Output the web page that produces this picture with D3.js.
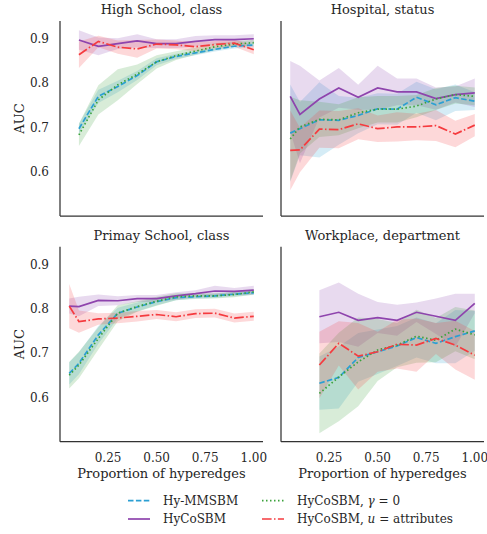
<!DOCTYPE html>
<html>
<head>
<meta charset="utf-8">
<script src="https://cdn.jsdelivr.net/npm/d3@7"></script>
<style>
  body { margin: 0; background: #fff; }
  text { font-family: "DejaVu Serif", serif; fill: #262626; }
</style>
</head>
<body>
<script>
// x positions (proportion of hyperedges)
let hsX = [0.1, 0.2, 0.3, 0.4, 0.5, 0.6, 0.7, 0.8, 0.9, 1.0];
let hoX = [0.05, 0.1, 0.2, 0.3, 0.4, 0.5, 0.6, 0.7, 0.8, 0.9, 1.0];
let psX = [0.05, 0.1, 0.2, 0.3, 0.4, 0.5, 0.6, 0.7, 0.8, 0.9, 1.0];
let wpX = [0.2, 0.3, 0.4, 0.5, 0.6, 0.7, 0.8, 0.9, 1.0];

// High School, class
let hsMmsbm = [0.697, 0.770, 0.792, 0.817, 0.848, 0.860, 0.868, 0.876, 0.883, 0.886];
let hsMmsbmCi = [0.012, 0.015, 0.013, 0.010, 0.008, 0.006, 0.005, 0.005, 0.005, 0.005];
let hsHyco = [0.897, 0.883, 0.889, 0.895, 0.889, 0.889, 0.894, 0.898, 0.898, 0.900];
let hsHycoCi = [0.022, 0.020, 0.012, 0.015, 0.010, 0.010, 0.012, 0.010, 0.010, 0.010];
let hsGamma = [0.683, 0.762, 0.796, 0.820, 0.848, 0.862, 0.872, 0.882, 0.888, 0.891];
let hsGammaCi = [0.025, 0.033, 0.035, 0.022, 0.015, 0.010, 0.008, 0.008, 0.006, 0.006];
let hsAttr = [0.864, 0.894, 0.881, 0.877, 0.888, 0.886, 0.882, 0.887, 0.890, 0.875];
let hsAttrCi = [0.030, 0.013, 0.015, 0.020, 0.010, 0.010, 0.010, 0.008, 0.008, 0.010];

// Hospital, status
let hoMmsbm = [0.687, 0.697, 0.717, 0.716, 0.727, 0.742, 0.741, 0.768, 0.751, 0.767, 0.759];
let hoMmsbmCi = [0.110, 0.060, 0.085, 0.055, 0.040, 0.035, 0.035, 0.035, 0.035, 0.030, 0.020];
let hoHyco = [0.770, 0.729, 0.764, 0.789, 0.768, 0.789, 0.780, 0.780, 0.765, 0.774, 0.778];
let hoHycoCi = [0.080, 0.110, 0.042, 0.045, 0.028, 0.050, 0.030, 0.030, 0.025, 0.018, 0.032];
let hoGamma = [0.674, 0.701, 0.718, 0.717, 0.733, 0.741, 0.741, 0.748, 0.764, 0.774, 0.770];
let hoGammaCi = [0.095, 0.060, 0.040, 0.035, 0.035, 0.030, 0.030, 0.025, 0.025, 0.020, 0.020];
let hoAttr = [0.648, 0.649, 0.696, 0.695, 0.708, 0.697, 0.701, 0.701, 0.704, 0.685, 0.705];
let hoAttrCi = [0.090, 0.050, 0.042, 0.042, 0.035, 0.030, 0.033, 0.030, 0.035, 0.030, 0.025];

// Primay School, class
let psMmsbm = [0.654, 0.677, 0.741, 0.790, 0.804, 0.816, 0.825, 0.827, 0.829, 0.833, 0.836];
let psMmsbmCi = [0.025, 0.025, 0.020, 0.012, 0.010, 0.008, 0.006, 0.005, 0.005, 0.005, 0.005];
let psHyco = [0.806, 0.805, 0.819, 0.818, 0.823, 0.823, 0.829, 0.834, 0.840, 0.839, 0.842];
let psHycoCi = [0.017, 0.022, 0.013, 0.010, 0.008, 0.008, 0.008, 0.008, 0.012, 0.008, 0.010];
let psGamma = [0.650, 0.673, 0.733, 0.790, 0.805, 0.817, 0.827, 0.829, 0.829, 0.832, 0.838];
let psGammaCi = [0.030, 0.030, 0.025, 0.018, 0.012, 0.010, 0.008, 0.006, 0.006, 0.006, 0.006];
let psAttr = [0.806, 0.771, 0.777, 0.779, 0.783, 0.787, 0.782, 0.789, 0.790, 0.779, 0.783];
let psAttrCi = [0.050, 0.025, 0.013, 0.012, 0.012, 0.010, 0.010, 0.010, 0.010, 0.010, 0.010];

// Workplace, department
let wpMmsbm = [0.632, 0.645, 0.690, 0.703, 0.716, 0.735, 0.722, 0.737, 0.750];
let wpMmsbmCi = [0.060, 0.070, 0.055, 0.050, 0.045, 0.045, 0.045, 0.060, 0.045];
let wpHyco = [0.782, 0.792, 0.774, 0.780, 0.774, 0.792, 0.783, 0.774, 0.812];
let wpHycoCi = [0.060, 0.067, 0.060, 0.035, 0.035, 0.022, 0.040, 0.060, 0.022];
let wpGamma = [0.609, 0.646, 0.680, 0.707, 0.718, 0.738, 0.729, 0.754, 0.741];
let wpGammaCi = [0.090, 0.100, 0.100, 0.070, 0.050, 0.060, 0.050, 0.050, 0.055];
let wpAttr = [0.673, 0.722, 0.693, 0.703, 0.720, 0.718, 0.733, 0.718, 0.695];
let wpAttrCi = [0.075, 0.050, 0.075, 0.045, 0.055, 0.060, 0.035, 0.055, 0.055];

let titles = ["High School, class", "Hospital, status", "Primay School, class", "Workplace, department"];
let seriesNames = ["Hy-MMSBM", "HyCoSBM", "HyCoSBM, γ = 0", "HyCoSBM, u = attributes"];
let colors = ["#2b9fd3", "#8e44ad", "#3aa23a", "#f53b3f"];
let dashes = ["5.5,2.4", null, "1.5,2.5", "9.6,2.4,1.5,2.4"];
let xTicks = [0.25, 0.50, 0.75, 1.00];
let yTicks = [0.6, 0.7, 0.8, 0.9];

let panels = [
  { x: hsX, s: [[hsMmsbm, hsMmsbmCi], [hsHyco, hsHycoCi], [hsGamma, hsGammaCi], [hsAttr, hsAttrCi]] },
  { x: hoX, s: [[hoMmsbm, hoMmsbmCi], [hoHyco, hoHycoCi], [hoGamma, hoGammaCi], [hoAttr, hoAttrCi]] },
  { x: psX, s: [[psMmsbm, psMmsbmCi], [psHyco, psHycoCi], [psGamma, psGammaCi], [psAttr, psAttrCi]] },
  { x: wpX, s: [[wpMmsbm, wpMmsbmCi], [wpHyco, wpHycoCi], [wpGamma, wpGammaCi], [wpAttr, wpAttrCi]] }
];

let width = 487,
    height = 534;

let pw = 203, ph = 195;
let lefts = [60, 281], tops = [21, 246.7];

let svg = d3.select("body")
    .append("svg")
    .attr("width", width)
    .attr("height", height);

let x = d3.scaleLinear().domain([0.0025, 1.0475]).range([0, pw]);
let y = d3.scaleLinear().domain([0.5, 0.94]).range([ph, 0]);

panels.forEach((p, i) => {
  let col = i % 2, row = Math.floor(i / 2);
  let g = svg.append("g")
      .attr("transform", "translate(" + lefts[col] + "," + tops[row] + ")");

  // confidence bands
  p.s.forEach((s, k) => {
    let pts = p.x.map((xv, j) => ({ x: xv, m: s[0][j], c: s[1][j] }));
    g.append("path")
        .datum(pts)
        .attr("fill", colors[k])
        .attr("fill-opacity", 0.2)
        .attr("d", d3.area()
            .x(d => x(d.x))
            .y0(d => y(d.m - d.c))
            .y1(d => y(d.m + d.c)));
  });

  // mean lines
  p.s.forEach((s, k) => {
    let pts = p.x.map((xv, j) => ({ x: xv, m: s[0][j] }));
    g.append("path")
        .datum(pts)
        .attr("fill", "none")
        .attr("stroke", colors[k])
        .attr("stroke-width", 1.7)
        .attr("stroke-dasharray", dashes[k])
        .attr("d", d3.line().x(d => x(d.x)).y(d => y(d.m)));
  });

  // spines
  g.append("line").attr("x1", 0).attr("x2", 0).attr("y1", 0).attr("y2", ph)
      .attr("stroke", "#333").attr("stroke-width", 1.25);
  g.append("line").attr("x1", 0).attr("x2", pw).attr("y1", ph).attr("y2", ph)
      .attr("stroke", "#333").attr("stroke-width", 1.25);

  g.append("text")
      .attr("x", pw / 2)
      .attr("y", -7)
      .style("text-anchor", "middle")
      .style("font-size", "13px")
      .text(titles[i]);

  if (col === 0) {
    g.selectAll(".yt").data(yTicks).enter().append("text")
        .attr("x", -11)
        .attr("y", d => y(d))
        .attr("dy", "0.35em")
        .style("text-anchor", "end")
        .style("font-size", "12px")
        .text(d => d.toFixed(1));
    g.append("text")
        .attr("transform", "translate(-41," + (ph / 2) + ") rotate(-90)")
        .attr("dy", "0.35em")
        .style("text-anchor", "middle")
        .style("font-size", "13px")
        .text("AUC");
  }

  if (row === 1) {
    g.selectAll(".xt").data(xTicks).enter().append("text")
        .attr("x", d => x(d))
        .attr("y", ph + 20)
        .style("text-anchor", "middle")
        .style("font-size", "12px")
        .text(d => d.toFixed(2));
    g.append("text")
        .attr("x", pw / 2)
        .attr("y", ph + 36.5)
        .style("text-anchor", "middle")
        .style("font-size", "13px")
        .text("Proportion of hyperedges");
  }
});

// legend
let legPos = [[128, 500.7], [128, 519], [262, 500.7], [262, 519]];
seriesNames.forEach((name, k) => {
  let lg = svg.append("g").attr("transform", "translate(" + legPos[k][0] + "," + legPos[k][1] + ")");
  lg.append("line")
      .attr("x1", 0).attr("x2", 22).attr("y1", 0).attr("y2", 0)
      .attr("stroke", colors[k])
      .attr("stroke-width", 1.7)
      .attr("stroke-dasharray", dashes[k]);
  let t = lg.append("text")
      .attr("x", 35)
      .attr("dy", "0.35em")
      .style("font-size", "12px");
  if (k === 2) {
    t.append("tspan").text("HyCoSBM, ");
    t.append("tspan").style("font-style", "italic").text("γ");
    t.append("tspan").text(" = 0");
  } else if (k === 3) {
    t.append("tspan").text("HyCoSBM, ");
    t.append("tspan").style("font-style", "italic").text("u");
    t.append("tspan").text(" = attributes");
  } else {
    t.text(name);
  }
});
</script>
</body>
</html>
